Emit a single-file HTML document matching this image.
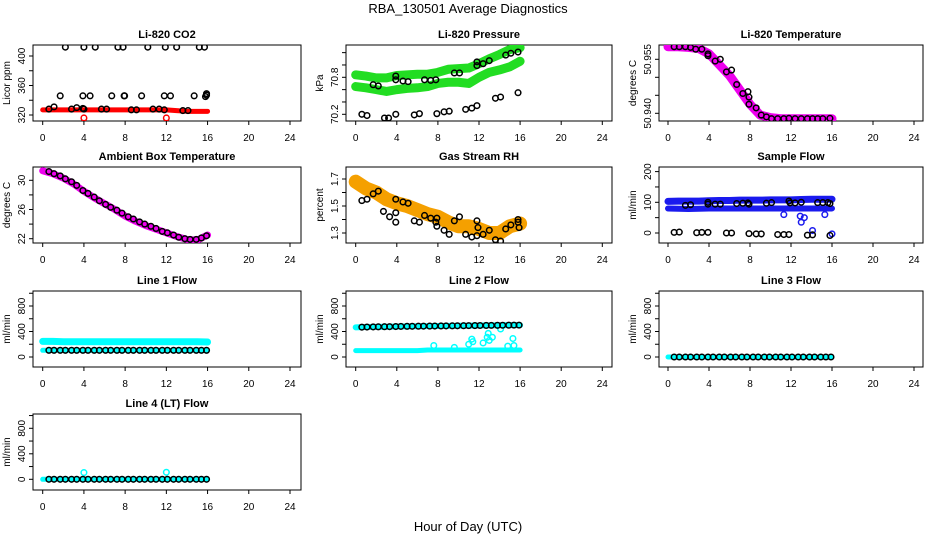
<!DOCTYPE html>
<html><head><meta charset="utf-8"><style>
body{margin:0;background:#fff}
svg{display:block;font-family:"Liberation Sans",sans-serif}
</style></head><body>
<svg id="c" width="936" height="540" viewBox="0 0 936 540">
<text x="468" y="13" text-anchor="middle" font-size="13">RBA_130501  Average Diagnostics</text>
<text x="468" y="531" text-anchor="middle" font-size="13">Hour of Day (UTC)</text>
</svg>
<script>
const xTicks=[0,4,8,12,16,20,24];
const bandHours=[0,1,2,3,4,5,6,7,8,9,10,11,12,13,14,15,16];
const sampleHours=[0.6,1.1,1.7,2.2,2.8,3.3,3.9,4.4,5.0,5.5,6.1,6.6,7.2,7.7,8.3,8.8,9.4,9.9,10.5,11.0,11.6,12.1,12.7,13.2,13.8,14.3,14.9,15.4,15.9];
// CO2
const co2Red=[327,327,327,327,327,327,327,327,327,327,327,327,327,326,325,325,325];
const co2RedOutX=[4.0,12.0];
const co2RedOutY=[316,316];
const co2HighX=[2.2,4.0,5.1,7.3,7.8,10.2,11.9,13.0,15.2,15.7];
const co2HighY=[412,412,412,412,412,412,412,412,412,412];
const co2MidX=[1.7,3.9,4.6,6.7,7.9,7.95,9.6,11.8,12.4,14.7,15.8,15.9,15.9];
const co2MidY=[346,346,346,346,346,346,346,346,346,346,345,347,349];
const co2LowX=[0.6,1.1,2.8,3.3,3.9,4.0,5.7,6.2,8.6,9.1,10.7,11.3,11.8,13.6,14.1];
const co2LowY=[328,331,328,330,329,328,328,328,327,327,328,328,327,326,326];
// Pressure
const pressUpper=[70.84,70.82,70.79,70.79,70.83,70.84,70.85,70.85,70.88,70.93,70.94,70.95,71.02,71.10,71.17,71.25,71.28];
const pressLower=[70.65,70.63,70.60,70.57,70.60,70.62,70.63,70.65,70.70,70.72,70.72,70.70,70.80,70.88,70.92,70.97,71.06];
const pressBlackLowX=[0.6,1.1,2.8,3.2,3.9,5.7,6.2,7.9,8.6,9.1,10.7,11.3,11.8,13.6,14.1,15.8];
const pressBlackLowY=[70.20,70.18,70.14,70.14,70.20,70.19,70.21,70.21,70.24,70.25,70.28,70.30,70.34,70.46,70.48,70.55];
const pressBlackHighX=[1.7,2.2,3.9,3.9,4.6,5.1,6.7,7.3,7.8,9.6,10.1,11.8,11.8,12.4,13.0,14.6,15.1,15.8];
const pressBlackHighY=[70.68,70.66,70.82,70.76,70.74,70.73,70.76,70.75,70.76,70.87,70.87,70.99,71.05,71.02,71.07,71.16,71.19,71.21];
// Li-820 temperature
const tempBand=[50.9585,50.9585,50.9583,50.9580,50.9565,50.9535,50.9505,50.9465,50.9425,50.9395,50.9388,50.9385,50.9385,50.9385,50.9385,50.9385,50.9385];
const tempBlackX=[0.6,1.1,1.7,2.2,2.7,3.3,3.9,3.9,4.6,5.1,5.7,6.2,6.7,7.3,7.8,7.9,7.9,8.6,9.1,9.6,10.1,10.7,11.3,11.8,12.4,13.0,13.6,14.1,14.6,15.1,15.8];
const tempBlackY=[50.9585,50.9585,50.9585,50.9583,50.9578,50.9578,50.9565,50.9560,50.9545,50.9550,50.9515,50.9520,50.9480,50.9455,50.9460,50.9445,50.9425,50.9415,50.9395,50.9390,50.9385,50.9385,50.9385,50.9386,50.9385,50.9385,50.9385,50.9385,50.9385,50.9385,50.9386];
// Ambient box temperature
const ambBand=[31.3,30.9,30.3,29.5,28.5,27.6,26.8,26.0,25.1,24.4,23.8,23.3,22.8,22.3,21.9,21.8,22.5];
const ambBlack=[31.2,30.9,30.6,30.2,29.8,29.3,28.6,28.2,27.7,27.2,26.7,26.3,25.9,25.5,25.0,24.7,24.3,24.0,23.7,23.4,23.0,22.8,22.5,22.2,22.0,21.9,21.9,22.1,22.4];
// Gas stream RH
const rhBand=[1.68,1.63,1.60,1.55,1.52,1.50,1.47,1.44,1.42,1.38,1.35,1.35,1.33,1.30,1.30,1.35,1.37];
const rhBlackX=[0.6,1.1,1.7,2.2,2.7,3.3,3.9,3.9,3.9,4.6,5.1,5.7,6.2,6.7,7.3,7.8,7.9,7.9,8.6,9.1,9.6,10.1,10.7,11.3,11.8,11.8,11.9,12.4,13.0,13.6,14.1,14.6,15.1,15.8,15.8,15.9];
const rhBlackY=[1.54,1.55,1.59,1.61,1.46,1.42,1.38,1.55,1.45,1.53,1.52,1.39,1.38,1.43,1.41,1.38,1.41,1.35,1.32,1.29,1.39,1.42,1.29,1.27,1.28,1.39,1.34,1.29,1.32,1.25,1.24,1.33,1.36,1.40,1.38,1.34];
// Sample flow
const sfUpper=[103,104,104,104,105,106,106,107,107,107,108,108,108,109,110,110,110];
const sfLower=[80,79,78,79,80,80,80,80,80,80,80,80,80,80,80,80,80];
const sfBlueOutX=[11.3,12.9,13.0,13.3,14.1,15.3,16.0];
const sfBlueOutY=[60,55,35,50,8,60,-3];
const sfBlackHighX=[1.7,2.2,3.9,3.9,4.6,5.1,6.7,7.3,7.8,7.9,9.6,10.1,11.8,11.9,12.4,13.0,14.6,15.1,15.6,15.8];
const sfBlackHighY=[90,92,100,94,94,94,96,97,98,94,97,99,104,98,98,100,99,99,99,96];
const sfBlackLowX=[0.6,1.1,2.8,3.3,3.9,5.7,6.2,7.9,8.6,9.1,10.7,11.3,11.8,13.6,14.1,15.8];
const sfBlackLowY=[2,3,1,2,2,0,0,-2,-3,-3,-5,-5,-5,-7,-6,-8];
// Line flows
const l1CyanUpper=[245,245,240,240,240,240,240,240,240,240,240,240,240,240,240,240,235];
const l1CyanLower=[105,105,105,105,105,105,105,105,105,105,105,105,105,105,105,105,105];
const l1Black=[105,105,105,105,105,105,105,105,105,105,105,105,105,105,105,105,105,105,105,105,105,105,105,105,105,105,105,105,105];
const l2CyanUpper=[465,470,472,475,478,480,482,485,487,488,490,492,495,497,498,500,500];
const l2CyanLower=[100,100,100,100,100,100,100,110,110,110,110,110,110,110,110,110,110];
const l2Black=[468,470,472,473,475,476,478,480,481,482,483,484,485,486,487,488,489,490,491,492,493,494,495,496,497,498,499,500,500];
const l2OutX=[7.6,9.6,11.0,11.3,11.4,12.4,12.8,12.9,13.0,13.3,14.1,14.8,15.3,15.4];
const l2OutY=[180,150,200,280,240,220,310,370,260,310,440,170,290,180];
const l3Cyan=[0,0,0,0,0,0,0,0,0,0,0,0,0,0,0,0,0];
const l3Black=[0,0,0,0,0,0,0,0,0,0,0,0,0,0,0,0,0,0,0,0,0,0,0,0,0,0,0,0,0];
const l4Cyan=[0,0,0,0,0,0,0,0,0,0,0,0,0,0,0,0,0];
const l4Black=[0,0,0,0,0,0,0,0,0,0,0,0,0,0,0,0,0,0,0,0,0,0,0,0,0,0,0,0,0];
const l4OutX=[4.0,12.0];
const l4OutY=[105,110];
// tick values
const co2Ticks=[320,340,360,380,400], co2Labels=[320,360,400];
const pressTicks=[70.2,70.4,70.6,70.8,71.0,71.2], pressLabels=[70.2,70.8];
const tempTicks=[50.940,50.945,50.950,50.955], tempLabels=[50.940,50.955];
const ambTicks=[22,24,26,28,30], ambLabels=[22,26,30];
const rhTicks=[1.3,1.4,1.5,1.6,1.7], rhLabels=[1.3,1.5,1.7];
const sfTicks=[0,50,100,150,200], sfLabels=[0,100,200];
const flowTicks=[0,200,400,600,800,1000], flowLabels=[0,400,800];

const NS="http://www.w3.org/2000/svg";
const svg=document.getElementById('c');
const cols=[{l:33,r:301,x0:42.7,x24:290},{l:346,r:612,x0:355.7,x24:602.3},{l:659,r:923,x0:668,x24:914}];
const rows=[45,167,291,414];
function mk(tag,at,parent){const e=document.createElementNS(NS,tag);for(const k in at)e.setAttribute(k,at[k]);(parent||svg).appendChild(e);return e;}

function makePanel(name,title,ylab,col,row,va,pa,vb,pb,ticks,labels,fmt){
  const c=cols[col],top=rows[row],bot=top+76;
  const g=mk('g',{});
  
  
  const P={g,x:h=>c.x0+(c.x24-c.x0)*h/24,y:v=>pa+(v-va)*(pb-pa)/(vb-va)};
  const b=mk('rect',{x:c.l,y:top,width:c.r-c.l,height:76,fill:'none',stroke:'#000','stroke-width':1},g);
  
  
  const t=mk('text',{x:(c.l+c.r)/2,y:top-7,'text-anchor':'middle','font-size':11,'font-weight':'bold'},g);
  t.textContent=title;
  
  
  const yl=mk('text',{transform:`translate(${c.l-23},${top+38}) rotate(-90)`,'text-anchor':'middle','font-size':10},g);
  yl.textContent=ylab;
  
  
  // x axis
  mk('line',{x1:P.x(0),x2:P.x(24),y1:bot,y2:bot,stroke:'#000'},g);
  xTicks.forEach(h=>{
    mk('line',{x1:P.x(h),x2:P.x(h),y1:bot,y2:bot+4,stroke:'#000'},g);
    const tl=mk('text',{x:P.x(h),y:bot+20,'text-anchor':'middle','font-size':10},g);
    tl.textContent=h;
    
    
  });
  ticks.forEach(v=>{const yy=P.y(v);if(yy<top-1)return;mk('line',{x1:c.l-4,x2:c.l,y1:yy,y2:yy,stroke:'#000'},g);});
  labels.forEach(v=>{
    const yy=P.y(v);
    const tl=mk('text',{transform:`translate(${c.l-8},${yy}) rotate(-90)`,'text-anchor':'middle','font-size':10},g);
    tl.textContent=fmt?fmt(v):v;
    
    
  });
  const cl=mk('clipPath',{id:'cp'+name},g);
  mk('rect',{x:c.l,y:top,width:c.r-c.l,height:76},cl);
  P.plot=mk('g',{'clip-path':`url(#cp${name})`},g);
  return P;
}
function band(P,xs,ys,color,w,name){
  const pl=mk('polyline',{points:xs.map((h,i)=>P.x(h)+','+P.y(ys[i])).join(' '),fill:'none',stroke:color,'stroke-width':w,'stroke-linejoin':'round','stroke-linecap':'round'},P.plot);
  
  
}
function pts(P,xs,ys,color,name){
  xs.forEach((h,i)=>{
    const c=mk('circle',{cx:P.x(h),cy:P.y(ys[i]),r:2.8,fill:'none',stroke:color,'stroke-width':1.5},P.plot);
    
    
  });
}
const f3=v=>v.toFixed(3), f1=v=>v.toFixed(1);

let P=makePanel('co2','Li-820 CO2','Licor ppm',0,0,320,115,400,56,co2Ticks,co2Labels);
band(P,bandHours,co2Red,'#f00',5,'co2-red-band');
pts(P,co2RedOutX,co2RedOutY,'#f00','co2-red-point');
pts(P,co2HighX,co2HighY,'#000','co2-black-point');
pts(P,co2MidX,co2MidY,'#000','co2-black-point');
pts(P,co2LowX,co2LowY,'#000','co2-black-point');

P=makePanel('pressure','Li-820 Pressure','kPa',1,0,70.2,114.3,70.8,77.3,pressTicks,pressLabels,f1);
band(P,bandHours,pressUpper,'#22dd22',9,'pressure-upper-band');
band(P,bandHours,pressLower,'#22dd22',9,'pressure-lower-band');
pts(P,pressBlackLowX,pressBlackLowY,'#000','pressure-black-point');
pts(P,pressBlackHighX,pressBlackHighY,'#000','pressure-black-point');

P=makePanel('li820-temp','Li-820 Temperature','degrees C',2,0,50.940,113.3,50.955,59.3,tempTicks,tempLabels,f3);
band(P,bandHours,tempBand,'#ee00ee',9,'li820-temp-band');
pts(P,tempBlackX,tempBlackY,'#000','li820-temp-black-point');

P=makePanel('ambient','Ambient Box Temperature','degrees C',0,1,22,238.7,30,180.3,ambTicks,ambLabels);
band(P,bandHours,ambBand,'#ee00ee',7,'ambient-band');
pts(P,sampleHours,ambBlack,'#000','ambient-black-point');

P=makePanel('rh','Gas Stream RH','percent',1,1,1.3,233,1.7,179,rhTicks,rhLabels,f1);
band(P,bandHours,rhBand,'#f5a000',14,'rh-band');
pts(P,rhBlackX,rhBlackY,'#000','rh-black-point');

P=makePanel('sample-flow','Sample Flow','ml/min',2,1,0,233,100,202.3,sfTicks,sfLabels);
band(P,bandHours,sfUpper,'#1a1aee',7,'sample-flow-upper-band');
band(P,bandHours,sfLower,'#1a1aee',6,'sample-flow-lower-band');
pts(P,sfBlueOutX,sfBlueOutY,'#1a1aee','sample-flow-blue-point');
pts(P,sfBlackHighX,sfBlackHighY,'#000','sample-flow-black-point');
pts(P,sfBlackLowX,sfBlackLowY,'#000','sample-flow-black-point');

P=makePanel('line1','Line 1 Flow','ml/min',0,2,0,357,800,306,flowTicks,flowLabels);
band(P,bandHours,l1CyanUpper,'#00ffff',7,'line1-cyan-upper-band');
band(P,bandHours,l1CyanLower,'#00ffff',5,'line1-cyan-lower-band');
pts(P,sampleHours,l1Black,'#000','line1-black-point');

P=makePanel('line2','Line 2 Flow','ml/min',1,2,0,357,800,306,flowTicks,flowLabels);
band(P,bandHours,l2CyanUpper,'#00ffff',6,'line2-cyan-upper-band');
band(P,bandHours,l2CyanLower,'#00ffff',5,'line2-cyan-lower-band');
pts(P,l2OutX,l2OutY,'#00ffff','line2-cyan-point');
pts(P,sampleHours,l2Black,'#000','line2-black-point');

P=makePanel('line3','Line 3 Flow','ml/min',2,2,0,357,800,306,flowTicks,flowLabels);
band(P,bandHours,l3Cyan,'#00ffff',5,'line3-cyan-band');
pts(P,sampleHours,l3Black,'#000','line3-black-point');

P=makePanel('line4','Line 4 (LT) Flow','ml/min',0,3,0,479.3,800,428.3,flowTicks,flowLabels);
band(P,bandHours,l4Cyan,'#00ffff',5,'line4-cyan-band');
pts(P,l4OutX,l4OutY,'#00ffff','line4-cyan-point');
pts(P,sampleHours,l4Black,'#000','line4-black-point');
</script>
</body></html>
